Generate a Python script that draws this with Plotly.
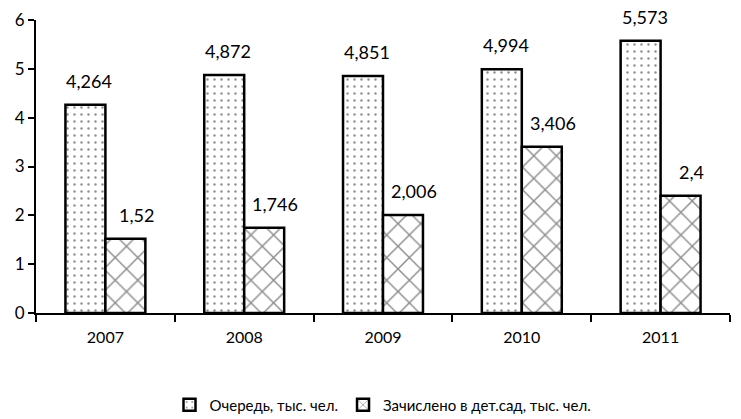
import plotly.graph_objects as go

years = ["2007", "2008", "2009", "2010", "2011"]
queue = [4.264, 4.872, 4.851, 4.994, 5.573]
enrolled = [1.52, 1.746, 2.006, 3.406, 2.4]
series_names = ["Очередь, тыс. чел.", "Зачислено в дет.сад, тыс. чел."]

FONT = "Lato, 'Open Sans', sans-serif"

fig = go.Figure()
fig.add_trace(go.Bar(
    x=years, y=queue, name=series_names[0],
    marker=dict(color="white", line=dict(color="black", width=2.5),
                pattern=dict(shape=".", fgcolor="#222222", bgcolor="white",
                             size=7, solidity=0.1)),
))
fig.add_trace(go.Bar(
    x=years, y=enrolled, name=series_names[1],
    marker=dict(color="white", line=dict(color="black", width=2.5),
                pattern=dict(shape="x", fgcolor="#1a1a1a", bgcolor="white",
                             size=16, solidity=0.17)),
))

# value labels above each bar, decimal comma (x given as category index)
def fmt(v):
    return f"{v:g}".replace(".", ",")

for i in range(len(years)):
    for vals, shift in ((queue, -16), (enrolled, 31)):
        fig.add_annotation(x=i, y=vals[i], text=fmt(vals[i]), showarrow=False,
                           xshift=shift, yshift=24, xanchor="center", yanchor="middle",
                           font=dict(family=FONT, size=18, color="black"))

fig.update_layout(
    width=741, height=419,
    margin=dict(l=36, r=11, t=20, b=106, autoexpand=False),
    paper_bgcolor="white", plot_bgcolor="white",
    barmode="group", bargap=0.424, bargroupgap=0,
    font=dict(family=FONT, size=15, color="black"),
    showlegend=True,
    legend=dict(orientation="h", x=0.5, xanchor="center", y=-0.314, yanchor="middle",
                font=dict(family=FONT, size=15), itemwidth=30,
                traceorder="normal"),
)
fig.update_xaxes(type="category", range=[-0.5, len(years) - 0.5], automargin=False,
                 showline=True, linecolor="black", linewidth=2,
                 ticks="outside", tickson="boundaries", ticklen=7,
                 tickcolor="black", tickwidth=2, showgrid=False,
                 tickfont=dict(size=16), tickangle=0, ticklabelstandoff=9)
fig.update_yaxes(range=[0, 6], dtick=1, showline=True, linecolor="black",
                 linewidth=2, ticks="outside", ticklen=6, tickcolor="black",
                 tickwidth=2, showgrid=False, zeroline=False, automargin=False,
                 tickfont=dict(size=17))

fig.write_html("out.html")
